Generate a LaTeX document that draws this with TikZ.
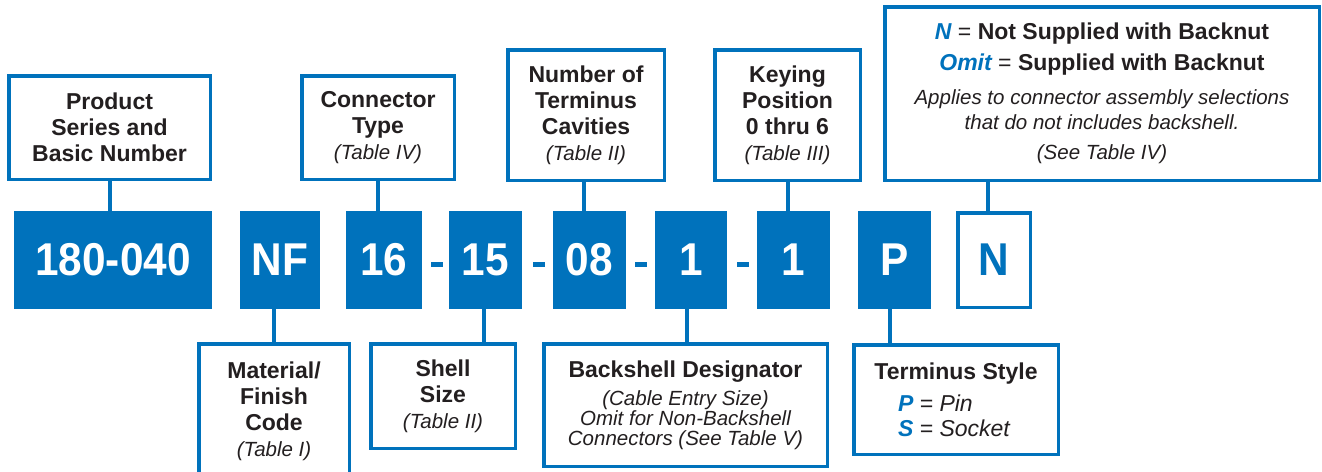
\documentclass[tikz,border=0pt]{standalone}
\usepackage{fontspec}
\setmainfont{Liberation Sans}
\newfontfamily\codefont[FakeStretch=0.92]{Liberation Sans}
\usepackage{tikz, xcolor}
\definecolor{cblue}{HTML}{0072BC}
\definecolor{ctext}{HTML}{231F20}
\newcommand{\tabref}[1]{{\fontsize{20.5}{24}\selectfont\mdseries\itshape #1}}
\newcommand{\hl}[1]{{\color{cblue}\bfseries\itshape #1}}

\begin{document}
\begin{tikzpicture}[x=1pt, y=-1pt,
        lbl/.style={draw=cblue, line width=3.5pt, fill=white, inner sep=0pt, align=center,
                text=ctext, font=\fontsize{23}{26}\selectfont\bfseries},
        code/.style={fill=cblue, text=white, inner sep=0pt, minimum height=98pt,
                font=\codefont\fontsize{46}{50}\selectfont\bfseries},
        sep/.style={fill=cblue, inner sep=0pt, minimum width=12pt, minimum height=5pt},
        link/.style={cblue, line width=4pt}]
        \useasboundingbox (0, 0) rectangle (1322, 471);
        \clip (0, 0) rectangle (1322, 471);
        % part number
        \node[code, minimum width=198pt] (b180) at (113, 260) {180-040};
        \node[code, minimum width=80pt] (bNF) at (280, 260) {NF};
        \node[code, minimum width=76pt] (b16) at (384, 260) {16};
        \node[code, minimum width=73pt] (b15) at (485.5, 260) {15};
        \node[code, minimum width=73pt] (b08) at (589.5, 260) {08};
        \node[code, minimum width=72pt] (bBS) at (691, 260) {1};
        \node[code, minimum width=73pt] (bKey) at (793.5, 260) {1};
        \node[code, minimum width=73pt] (bP) at (894.5, 260) {P};
        \node[code, fill=white, draw=cblue, line width=3.5pt, text=cblue,
                minimum width=72.5pt, minimum height=94.5pt] (bN) at (994, 260) {N};
        \node[sep] (d1) at (436.5, 264) {};
        \node[sep] (d2) at (538.5, 264) {};
        \node[sep] (d3) at (641, 264) {};
        \node[sep] (d4) at (743, 264) {};
        % upper labels
        \node[lbl, minimum width=201.5pt, minimum height=103.5pt] (prod) at (109.5, 127.5)
                {Product\\Series and\\Basic Number};
        \node[lbl, minimum width=152.5pt, minimum height=103.5pt] (ctype) at (378, 127.5)
                {Connector\\Type\\\tabref{(Table IV)}};
        \node[lbl, minimum width=156.5pt, minimum height=130.5pt] (ncav) at (586, 115)
                {Number of\\Terminus\\Cavities\\\tabref{(Table II)}};
        \node[lbl, minimum width=145.5pt, minimum height=130.5pt] (keying) at (787.5, 115)
                {Keying\\Position\\0 thru 6\\\tabref{(Table III)}};
        \node[lbl, minimum width=434.5pt, minimum height=173.5pt] (backnut) at (1102, 93.5)
                {\hl{N} {\mdseries =} Not Supplied with Backnut\\[5pt]
                \hl{Omit} {\mdseries =} Supplied with Backnut\\[8pt]
                \tabref{Applies to connector assembly selections}\\[-1pt]
                \tabref{that do not includes backshell.}\\[4pt]
                \tabref{(See Table IV)}};
        % lower labels
        \node[lbl, minimum width=150.5pt, minimum height=134.5pt] (mat) at (274, 411)
                {Material/\\Finish\\Code\\\tabref{(Table I)}};
        \node[lbl, minimum width=144.5pt, minimum height=104.5pt] (shell) at (443, 396)
                {Shell\\Size\\\tabref{(Table II)}};
        \node[lbl, minimum width=283.5pt, minimum height=122.5pt] (back) at (685.5, 405)
                {Backshell Designator\\[2pt]
                \tabref{(Cable Entry Size)}\\[-6pt]
                \tabref{Omit for Non-Backshell}\\[-6pt]
                \tabref{Connectors (See Table V)}};
        \node[lbl, minimum width=204.5pt, minimum height=109.5pt] (term) at (956, 399.5)
                {Terminus Style\\[6pt]
                \makebox[116pt][l]{\hl{P} \mdseries\itshape = Pin}\\[-1pt]
                \makebox[116pt][l]{\hl{S} \mdseries\itshape = Socket}};
        % connectors
        \draw[link] ([xshift=-3pt]b180.north) -- ([xshift=-3pt]b180.north |- prod.south);
        \draw[link] ([xshift=-6pt]b16.north) -- ([xshift=-6pt]b16.north |- ctype.south);
        \draw[link] ([xshift=-6pt]b08.north) -- ([xshift=-6pt]b08.north |- ncav.south);
        \draw[link] ([xshift=-6pt]bKey.north) -- ([xshift=-6pt]bKey.north |- keying.south);
        \draw[link] ([xshift=-6pt]bN.north) -- ([xshift=-6pt]bN.north |- backnut.south);
        \draw[link] ([xshift=-6pt]bNF.south) -- ([xshift=-6pt]bNF.south |- mat.north);
        \draw[link] ([xshift=-2pt]b15.south) -- ([xshift=-2pt]b15.south |- shell.north);
        \draw[link] ([xshift=-4pt]bBS.south) -- ([xshift=-4pt]bBS.south |- back.north);
        \draw[link] ([xshift=-5pt]bP.south) -- ([xshift=-5pt]bP.south |- term.north);
\end{tikzpicture}
\end{document}
